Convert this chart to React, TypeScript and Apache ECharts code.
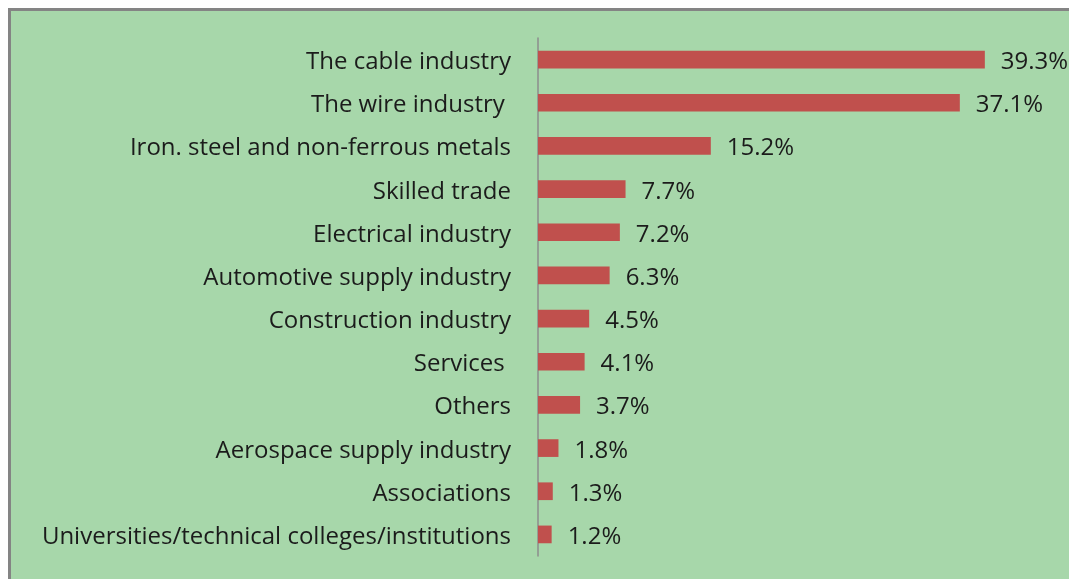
import React, { useEffect, useRef } from "react";
import * as echarts from "echarts";

const categories = [
  "The cable industry",
  "The wire industry ",
  "Iron. steel and non-ferrous metals",
  "Skilled trade",
  "Electrical industry",
  "Automotive supply industry",
  "Construction industry",
  "Services ",
  "Others",
  "Aerospace supply industry",
  "Associations",
  "Universities/technical colleges/institutions",
];
const values = [39.3, 37.1, 15.2, 7.7, 7.2, 6.3, 4.5, 4.1, 3.7, 1.8, 1.3, 1.2];

const FONT = "'Open Sans', sans-serif";

export default function App() {
  const ref = useRef<HTMLDivElement>(null);
  useEffect(() => {
    if (!ref.current) return;
    const chart = echarts.init(ref.current, null, { renderer: "svg" });
    chart.setOption({
      animation: false,
      graphic: [
        {
          type: "rect",
          z: -10,
          shape: { x: 9.5, y: 9.5, width: 1100, height: 600 },
          style: { fill: "#a7d7aa", stroke: "#848484", lineWidth: 3 },
        },
      ],
      grid: { left: 538, top: 38, bottom: 23, width: 45 * 11.37 },
      xAxis: {
        type: "value",
        min: 0,
        max: 45,
        show: false,
      },
      yAxis: {
        type: "category",
        data: categories,
        inverse: true,
        axisLine: { show: true, lineStyle: { color: "#8c8c8c", width: 1.5 } },
        axisTick: { show: false },
        axisLabel: {
          margin: 27,
          fontFamily: FONT,
          fontSize: 24,
          color: "#1b1b1b",
        },
      },
      series: [
        {
          type: "bar",
          data: values,
          barWidth: "41%",
          itemStyle: { color: "#c0504d" },
          label: {
            show: true,
            position: "right",
            distance: 16,
            fontFamily: FONT,
            fontSize: 24,
            color: "#1b1b1b",
            formatter: (p: any) => p.value.toFixed(1) + "%",
          },
        },
      ],
    });
    return () => chart.dispose();
  }, []);
  return (
    <div
      ref={ref}
      style={{ position: "fixed", left: 0, top: 0, width: 1069, height: 579 }}
    />
  );
}
